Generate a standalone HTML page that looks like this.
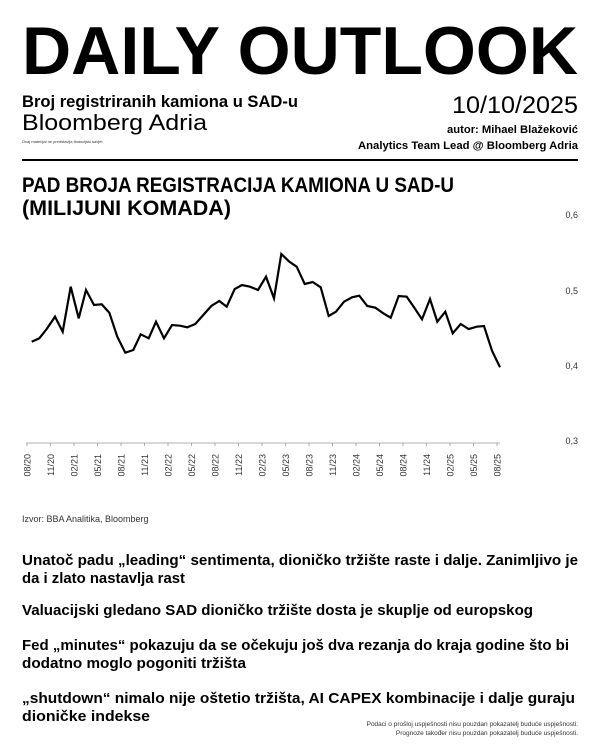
<!DOCTYPE html>
<html><head><meta charset="utf-8"><style>
html,body{margin:0;padding:0;background:#fff;}
svg{display:block;font-family:"Liberation Sans",sans-serif;}
</style></head><body>
<svg width="600" height="750" viewBox="0 0 600 750" xmlns="http://www.w3.org/2000/svg">
<text x="22" y="74" font-size="68" font-weight="bold" textLength="556" lengthAdjust="spacingAndGlyphs">DAILY OUTLOOK</text>
<text x="22" y="107" font-size="17" font-weight="bold" textLength="276" lengthAdjust="spacingAndGlyphs">Broj registriranih kamiona u SAD-u</text>
<text x="22" y="130" font-size="22" textLength="185" lengthAdjust="spacingAndGlyphs">Bloomberg Adria</text>
<text x="22" y="143" font-size="4" fill="#333">Ovaj materijal ne predstavlja financijski savjet.</text>
<text x="578" y="113" font-size="24" text-anchor="end" textLength="126" lengthAdjust="spacingAndGlyphs">10/10/2025</text>
<text x="578" y="133" font-size="11" font-weight="bold" text-anchor="end" textLength="131" lengthAdjust="spacingAndGlyphs">autor: Mihael Blažeković</text>
<text x="578" y="149" font-size="11" font-weight="bold" text-anchor="end" textLength="220" lengthAdjust="spacingAndGlyphs">Analytics Team Lead @ Bloomberg Adria</text>
<rect x="22" y="159" width="556" height="2" fill="#000"/>
<text x="22" y="192" font-size="21" font-weight="bold" textLength="432" lengthAdjust="spacingAndGlyphs">PAD BROJA REGISTRACIJA KAMIONA U SAD-U</text>
<text x="22" y="215" font-size="21" font-weight="bold" textLength="209" lengthAdjust="spacingAndGlyphs">(MILIJUNI KOMADA)</text>
<g font-size="9" fill="#333" text-anchor="end">
<text x="578" y="218">0,6</text><text x="578" y="294">0,5</text><text x="578" y="369">0,4</text><text x="578" y="444">0,3</text>
</g>
<line x1="26" y1="443" x2="500" y2="443" stroke="#999" stroke-width="0.8"/>
<g stroke="#999" stroke-width="0.8" id="ticks"></g>
<g font-size="9" fill="#333" id="xl"></g>
<polyline fill="none" stroke="#000" stroke-width="2.2" stroke-linejoin="miter" id="ln" points=""/>
<text x="22" y="522" font-size="9" fill="#333">Izvor: BBA Analitika, Bloomberg</text>
<g font-size="15" font-weight="bold">
<text x="22" y="565" textLength="556" lengthAdjust="spacingAndGlyphs">Unatoč padu „leading“ sentimenta, dioničko tržište raste i dalje. Zanimljivo je</text>
<text x="22" y="583" textLength="163" lengthAdjust="spacingAndGlyphs">da i zlato nastavlja rast</text>
<text x="22" y="615" textLength="511" lengthAdjust="spacingAndGlyphs">Valuacijski gledano SAD dioničko tržište dosta je skuplje od europskog</text>
<text x="22" y="650" textLength="547" lengthAdjust="spacingAndGlyphs">Fed „minutes“ pokazuju da se očekuju još dva rezanja do kraja godine što bi</text>
<text x="22" y="668" textLength="224" lengthAdjust="spacingAndGlyphs">dodatno moglo pogoniti tržišta</text>
<text x="22" y="703" textLength="553" lengthAdjust="spacingAndGlyphs">„shutdown“ nimalo nije oštetio tržišta, AI CAPEX kombinacije i dalje guraju</text>
<text x="22" y="721" textLength="128" lengthAdjust="spacingAndGlyphs">dioničke indekse</text>
</g>
<text x="578" y="726" font-size="6.5" fill="#333" text-anchor="end">Podaci o prošloj uspješnosti nisu pouzdan pokazatelj buduće uspješnosti.</text>
<text x="578" y="735" font-size="6.5" fill="#333" text-anchor="end">Prognoze također nisu pouzdan pokazatelj buduće uspješnosti.</text>
</svg>
<script>
var z=[35,335,58,325,80,297,105,260,128,305,152,170,176,265,198,180,222,225,245,223,268,248,292,320,316,368,340,360,362,313,386,325,408,275,432,325,456,285,480,287,502,292,526,282,550,255,574,228,598,213,620,230,644,177,666,165,690,170,714,180,738,140,762,205,784,72,808,95,830,110,854,162,878,156,902,172,926,258,948,245,972,215,996,202,1018,197,1042,228,1066,233,1090,250,1112,263,1136,198,1160,200,1182,232,1206,268,1230,207,1252,275,1276,245,1298,310,1322,282,1346,297,1370,290,1392,288,1416,362,1440,412];
var p=[];for(var i=0;i<z.length;i+=2)p.push((20+z[i]/3).toFixed(1)+","+(230+z[i+1]/3).toFixed(1));
document.getElementById("ln").setAttribute("points",p.join(" "));
var labs=["08/20","11/20","02/21","05/21","08/21","11/21","02/22","05/22","08/22","11/22","02/23","05/23","08/23","11/23","02/24","05/24","08/24","11/24","02/25","05/25","08/25"];
var ns="http://www.w3.org/2000/svg",t=document.getElementById("ticks"),xl=document.getElementById("xl");
labs.forEach(function(l,i){var x=27+i*23.5;
var ln=document.createElementNS(ns,"line");ln.setAttribute("x1",x);ln.setAttribute("x2",x);ln.setAttribute("y1",443);ln.setAttribute("y2",446);t.appendChild(ln);
var tx=document.createElementNS(ns,"text");tx.setAttribute("transform","translate("+(x+3.5)+",454) rotate(-90)");tx.setAttribute("text-anchor","end");tx.textContent=l;xl.appendChild(tx);});
</script>
</body></html>
